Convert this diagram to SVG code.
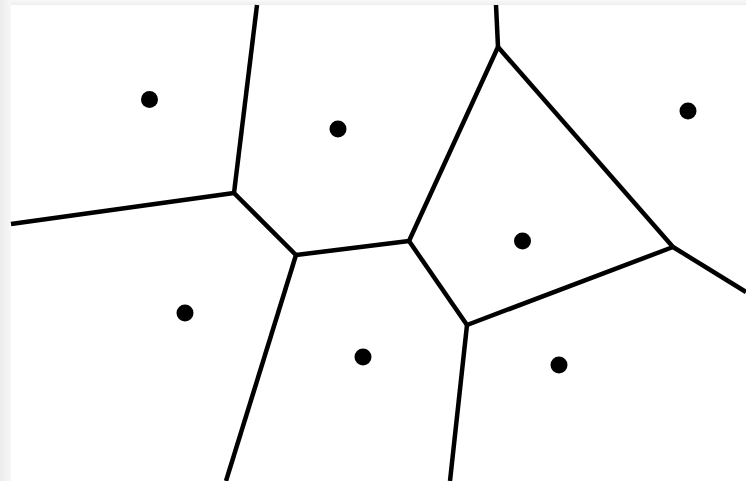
<svg xmlns="http://www.w3.org/2000/svg" width="746" height="481" viewBox="0 0 746 481">
<defs>
<linearGradient id="lg" x1="0" y1="0" x2="1" y2="0"><stop offset="0" stop-color="#ececec"/><stop offset="1" stop-color="#f7f7f7"/></linearGradient>
<linearGradient id="tg" x1="0" y1="0" x2="0" y2="1"><stop offset="0" stop-color="#f9f9f9"/><stop offset="1" stop-color="#ededed"/></linearGradient>
</defs>
<style>
.e{stroke:#000;stroke-width:4.5;fill:none;stroke-linecap:butt;stroke-linejoin:round}
.s{fill:#000}
</style>
<rect x="0" y="0" width="746" height="5" fill="url(#tg)"/>
<rect x="0" y="0" width="11" height="481" fill="url(#lg)"/>
<rect x="11" y="5" width="735" height="476" fill="#fff"/>
<g id="connectors">
<path class="e" d="M11,224 L234,193"/>
<path class="e" d="M257,5 L234,193"/>
<path class="e" d="M234,193 L296,255"/>
<path class="e" d="M296,255 L409,241"/>
<path class="e" d="M296,255 L226,481"/>
<path class="e" d="M409,241 L498,47"/>
<path class="e" d="M409,241 L467,325"/>
<path class="e" d="M496,5 L498,47"/>
<path class="e" d="M498,47 L673,247"/>
<path class="e" d="M673,247 L746,292"/>
<path class="e" d="M673,247 L467,325"/>
<path class="e" d="M467,325 L450,481"/>
</g>
<g id="site1"><circle class="s" cx="149.5" cy="99.5" r="8.5"/></g>
<g id="site2"><circle class="s" cx="338" cy="129" r="8.5"/></g>
<g id="site3"><circle class="s" cx="688" cy="111" r="8.5"/></g>
<g id="site4"><circle class="s" cx="522.5" cy="241" r="8.5"/></g>
<g id="site5"><circle class="s" cx="185" cy="313" r="8.5"/></g>
<g id="site6"><circle class="s" cx="363" cy="357" r="8.5"/></g>
<g id="site7"><circle class="s" cx="559" cy="365" r="8.5"/></g>
</svg>
